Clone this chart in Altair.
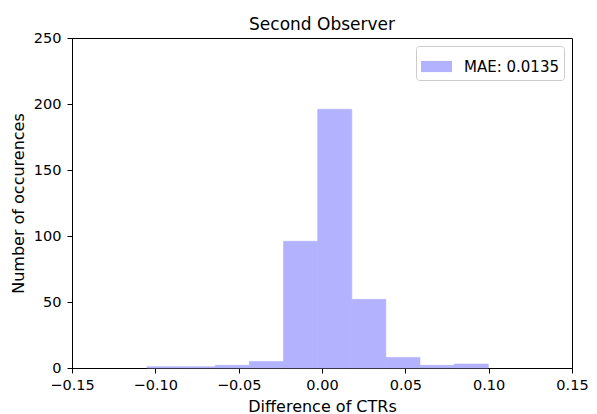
import altair as alt
import pandas as pd

# Histogram bin edges (10 bins) and counts
bin_edges = [-0.1050, -0.0845, -0.0640, -0.0436, -0.0231, -0.0026,
             0.0179, 0.0383, 0.0588, 0.0793, 0.0998]
counts = [1, 1, 2, 5, 96, 196, 52, 8, 2, 3]
series_label = "MAE: 0.0135"
chart_title = "Second Observer"
x_ticks = [-0.15, -0.10, -0.05, 0.0, 0.05, 0.10, 0.15]
y_ticks = [0, 50, 100, 150, 200, 250]

df = pd.DataFrame({
    "start": bin_edges[:-1],
    "end": bin_edges[1:],
    "count": counts,
    "series": [series_label] * len(counts),
})
title_df = pd.DataFrame({"t": [chart_title]})

FONT = "DejaVu Sans"
BAR = "#b2b2ff"
W, H = 500, 330

bars = alt.Chart(df).mark_bar(stroke=BAR, strokeWidth=0.6, opacity=1).encode(
    x=alt.X("start:Q",
            scale=alt.Scale(domain=[-0.15, 0.15], nice=False, zero=False),
            axis=alt.Axis(values=x_ticks, format=".2f", title="Difference of CTRs",
                          grid=False, tickSize=5, labelPadding=5,
                          titleY=38, titleBaseline="middle", titleFontSize=16,
                          labelFlush=False)),
    x2="end:Q",
    y=alt.Y("count:Q",
            scale=alt.Scale(domain=[0, 250], nice=False),
            axis=alt.Axis(values=y_ticks, title="Number of occurences",
                          grid=False, tickSize=5, labelPadding=6,
                          titleX=-54, titleY=H / 2, titleAngle=270,
                          titleAlign="center", titleBaseline="middle",
                          titleFontSize=16, labelFlush=False)),
    y2=alt.datum(0),
    color=alt.Color("series:N",
                    scale=alt.Scale(range=[BAR]),
                    legend=alt.Legend(title=None, orient="top-right", offset=8,
                                      symbolType="M-1,-0.36H1V0.36H-1Z",
                                      symbolSize=961, symbolStrokeWidth=0,
                                      symbolOpacity=1,
                                      labelFontSize=15, labelOffset=12,
                                      labelFont=FONT, labelColor="black",
                                      padding=5, strokeColor="#cccccc",
                                      cornerRadius=3, fillColor="white")),
)

title = alt.Chart(title_df).mark_text(
    font=FONT, fontSize=17, color="black", align="center", baseline="alphabetic"
).encode(
    text="t:N",
    x=alt.value(W / 2),
    y=alt.value(-8),
)

chart = alt.layer(bars, title).properties(
    width=W,
    height=H,
    autosize=alt.AutoSizeParams(type="none"),
    padding={"left": 64, "top": 30, "right": 17, "bottom": 46},
).configure_view(
    stroke="black", strokeWidth=1
).configure_axis(
    domainColor="black", tickColor="black", labelColor="black",
    titleColor="black", labelFont=FONT, titleFont=FONT,
    labelFontSize=14.5, titleFontWeight="normal", domainWidth=1, tickWidth=1,
)

chart.save("out.html", embed_options={"renderer": "svg", "actions": False})
